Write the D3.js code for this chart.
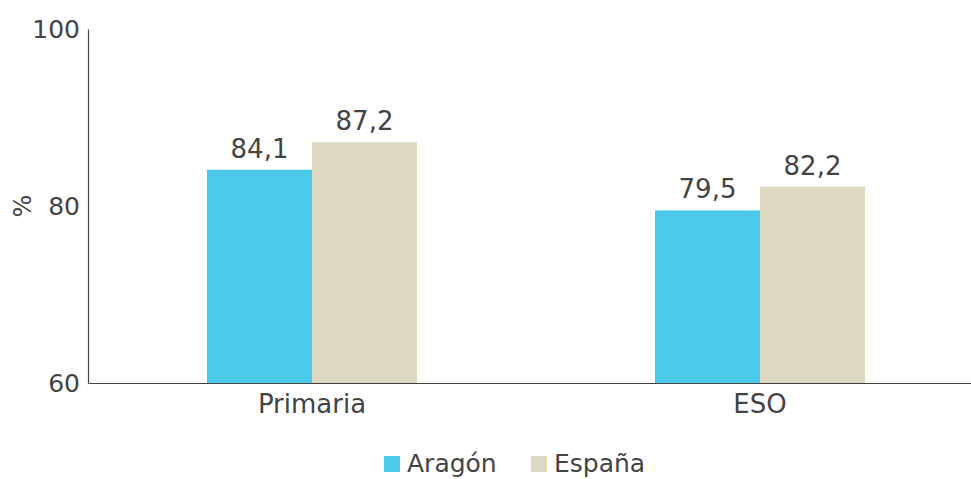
<!DOCTYPE html>
<html>
<head>
<meta charset="utf-8">
<script src="https://cdn.jsdelivr.net/npm/d3@7"></script>
<style>
  body { margin: 0; background: #fff; }
  svg { display: block; font-family: "DejaVu Sans", sans-serif; }
</style>
</head>
<body>
<svg id="chart"></svg>
<script>
const categories = ['Primaria', 'ESO'];
const seriesNames = ['Aragón', 'España'];
const aragon = [84.1, 79.5];
const espana = [87.2, 82.2];
const seriesColors = ['#4bc9e6', '#ddd8c2'];
const yTicks = [60, 80, 100];

const width = 971;
const height = 479;
const margin = { top: 29, left: 88, bottom: 96 };
const textColor = '#444';
const fontSize = 26;

const svg = d3.select('#chart')
  .attr('width', width)
  .attr('height', height);

const y = d3.scaleLinear()
  .domain([60, 100])
  .range([height - margin.bottom, margin.top]);

// group band runs past the right edge of the picture, like the original
const x0 = d3.scaleBand()
  .domain(categories)
  .range([margin.left, 984]);

const x1 = d3.scaleBand()
  .domain(seriesNames)
  .range([0, 210]);

const rows = categories.map((c, i) => ({
  category: c,
  values: [aragon[i], espana[i]],
}));

const groups = svg.selectAll('g.group')
  .data(rows)
  .enter()
  .append('g')
  .attr('class', 'group')
  .attr('transform', (d) => `translate(${x0(d.category) + x0.bandwidth() / 2 - 105},0)`);

groups.selectAll('rect')
  .data((d) => d.values.map((v, j) => ({ name: seriesNames[j], value: v, color: seriesColors[j] })))
  .enter()
  .append('rect')
  .attr('x', (d) => x1(d.name))
  .attr('y', (d) => y(d.value))
  .attr('width', x1.bandwidth())
  .attr('height', (d) => y(60) - y(d.value))
  .attr('fill', (d) => d.color);

groups.selectAll('text.value')
  .data((d) => d.values.map((v, j) => ({ name: seriesNames[j], value: v })))
  .enter()
  .append('text')
  .attr('class', 'value')
  .attr('x', (d) => x1(d.name) + x1.bandwidth() / 2)
  .attr('y', (d) => y(d.value) - 12)
  .attr('text-anchor', 'middle')
  .attr('font-size', fontSize)
  .attr('fill', textColor)
  .text((d) => d3.format('.1f')(d.value).replace('.', ','));

// y axis
const yAxis = svg.append('g')
  .attr('transform', `translate(${margin.left},0)`)
  .call(d3.axisLeft(y).tickValues(yTicks).tickSize(0).tickPadding(8));
yAxis.select('.domain').attr('stroke', textColor).attr('stroke-width', 1.2);
yAxis.selectAll('text').attr('font-size', 25).attr('fill', textColor)
  .attr('font-family', '"DejaVu Sans", sans-serif');

// x axis
const xAxis = svg.append('g')
  .attr('transform', `translate(0,${y(60)})`)
  .call(d3.axisBottom(x0).tickSize(0).tickPadding(12));
xAxis.select('.domain').attr('stroke', textColor).attr('stroke-width', 1.2);
xAxis.selectAll('text').attr('font-size', fontSize).attr('fill', textColor)
  .attr('font-family', '"DejaVu Sans", sans-serif');

svg.append('text')
  .attr('transform', `translate(31,${y(80)}) rotate(-90)`)
  .attr('text-anchor', 'middle')
  .attr('font-size', 24)
  .attr('fill', textColor)
  .text('%');

// legend
const legendX = [384, 531];
const legend = svg.selectAll('g.legend')
  .data(seriesNames)
  .enter()
  .append('g')
  .attr('class', 'legend')
  .attr('transform', (d, i) => `translate(${legendX[i]},456)`);
legend.append('rect')
  .attr('width', 16)
  .attr('height', 16)
  .attr('fill', (d, i) => seriesColors[i]);
legend.append('text')
  .attr('x', 23)
  .attr('y', 8)
  .attr('dy', '0.33em')
  .attr('font-size', 25)
  .attr('fill', textColor)
  .text((d) => d);
</script>
</body>
</html>
